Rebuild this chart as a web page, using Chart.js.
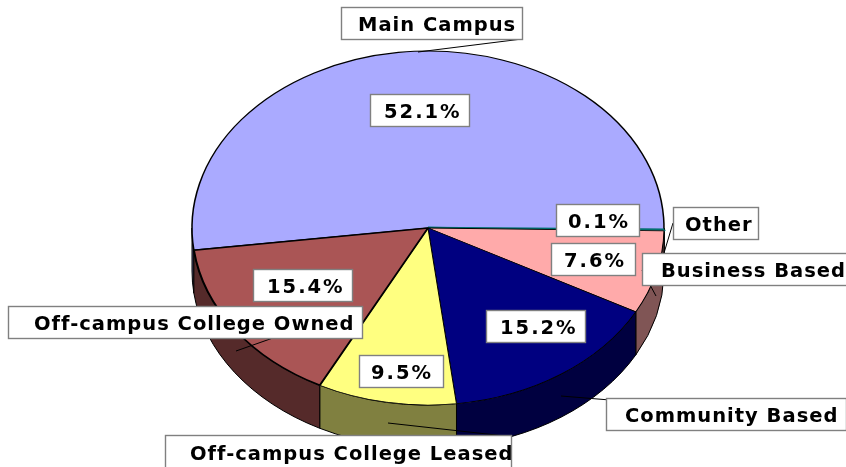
<!DOCTYPE html>
<html>
<head>
<meta charset="utf-8">
<style>
  html, body { margin: 0; padding: 0; background: #fff; }
  #wrap { position: relative; width: 846px; height: 467px; overflow: hidden; }
</style>
<script src="https://cdn.jsdelivr.net/npm/chart.js@4"></script>
</head>
<body>
<div id="wrap"><canvas id="pie" width="846" height="467"></canvas></div>
<script>
// clockwise from the left edge of the big slice
const categories = ['Main Campus', 'Other', 'Business Based', 'Community Based', 'Off-campus College Leased', 'Off-campus College Owned'];
const shares = [52.1, 0.1, 7.6, 15.2, 9.5, 15.4];
const topColors = ['#AAAAFF', '#00A0A0', '#FFAAAA', '#000080', '#FFFF80', '#AA5555'];
const wallColors = ['#555580', '#005050', '#805555', '#000040', '#808040', '#552A2A'];

// where the pie sits once squashed into an ellipse
const pieX = 428, pieY = 228, pieRx = 236, pieRy = 177, pieDepth = 43;

// label boxes [left, top, right, bottom, text left, baseline]
const nameBoxes = [
    [341, 7, 522, 39, 358, 31],
    [673, 207, 758, 239, 685, 231],
    [642, 253, 860, 285, 661, 277],
    [606, 398, 846, 430, 625, 422],
    [165, 435, 511, 475, 190, 460],
    [8, 306, 362, 338, 34, 330]
];
const valueBoxes = [
    [370, 94, 469, 126, 384, 118],
    [556, 204, 639, 236, 568, 228],
    [551, 243, 635, 275, 564, 267],
    [486, 310, 585, 342, 500, 334],
    [359, 355, 443, 387, 371, 379],
    [253, 269, 352, 301, 267, 293]
];
const leaders = [
    [522, 39, 418, 52],
    [673, 223, 664, 253],
    [642, 270, 656, 296],
    [561, 396, 610, 400],
    [388, 423, 505, 436],
    [236, 351, 290, 332]
];

function squash(ctx, arc) {
    const r = arc.outerRadius;
    ctx.translate(pieX, pieY);
    ctx.scale(pieRx / r, pieRy / r);
    ctx.translate(-arc.x, -arc.y);
}

// outer wall of the slices, only the part facing the viewer
function drawWalls(chart) {
    const ctx = chart.ctx;
    const arcs = chart.getDatasetMeta(0).data;
    arcs.forEach((arc, i) => {
        const r = arc.outerRadius;
        const d = pieDepth * r / pieRy;
        [-2, 0, 2].forEach(k => {
            const a = Math.max(arc.startAngle, k * Math.PI);
            const b = Math.min(arc.endAngle, (k + 1) * Math.PI);
            if (b <= a) return;
            ctx.save();
            squash(ctx, arc);
            ctx.beginPath();
            ctx.arc(arc.x, arc.y, r, a, b);
            ctx.arc(arc.x, arc.y + d, r, b, a, true);
            ctx.closePath();
            ctx.restore();
            ctx.fillStyle = wallColors[i];
            ctx.fill();
            ctx.strokeStyle = '#000';
            ctx.lineWidth = 1;
            ctx.stroke();
        });
    });
}

function drawBox(ctx, box, text, spacing) {
    const [l, t, r, b, tx, ty] = box;
    ctx.fillStyle = '#fff';
    ctx.fillRect(l, t, r - l, b - t);
    ctx.strokeStyle = '#808080';
    ctx.lineWidth = 1.4;
    ctx.strokeRect(l + 0.5, t + 0.5, r - l, b - t);
    ctx.fillStyle = '#000';
    ctx.font = 'bold 19.5px "DejaVu Sans"';
    ctx.letterSpacing = spacing;
    ctx.textBaseline = 'alphabetic';
    ctx.textAlign = 'left';
    ctx.fillText(text, tx, ty);
}

const pie3d = {
    id: 'pie3d',
    beforeDatasetsDraw(chart) {
        drawWalls(chart);
        const ctx = chart.ctx;
        ctx.save();
        squash(ctx, chart.getDatasetMeta(0).data[0]);
    },
    afterDatasetsDraw(chart) {
        chart.ctx.restore();
    },
    afterDraw(chart) {
        const ctx = chart.ctx;
        ctx.save();
        ctx.strokeStyle = '#000';
        ctx.lineWidth = 1;
        leaders.forEach(l => {
            ctx.beginPath();
            ctx.moveTo(l[0], l[1]);
            ctx.lineTo(l[2], l[3]);
            ctx.stroke();
        });
        categories.forEach((name, i) => {
            drawBox(ctx, nameBoxes[i], name, '1px');
            drawBox(ctx, valueBoxes[i], shares[i].toFixed(1) + '%', '2px');
        });
        ctx.restore();
    }
};

new Chart(document.getElementById('pie'), {
    type: 'pie',
    data: {
        labels: categories,
        datasets: [{
            data: shares,
            backgroundColor: topColors,
            borderColor: ['#000', '#007070', '#000', '#000', '#000', '#000'],
            borderWidth: [1.5, 3, 1, 1, 1, 2]
        }]
    },
    options: {
        responsive: false,
        animation: false,
        rotation: 262.8,
        layout: { padding: 0 },
        plugins: { legend: { display: false }, tooltip: { enabled: false } }
    },
    plugins: [pie3d]
});
</script>
</body>
</html>
